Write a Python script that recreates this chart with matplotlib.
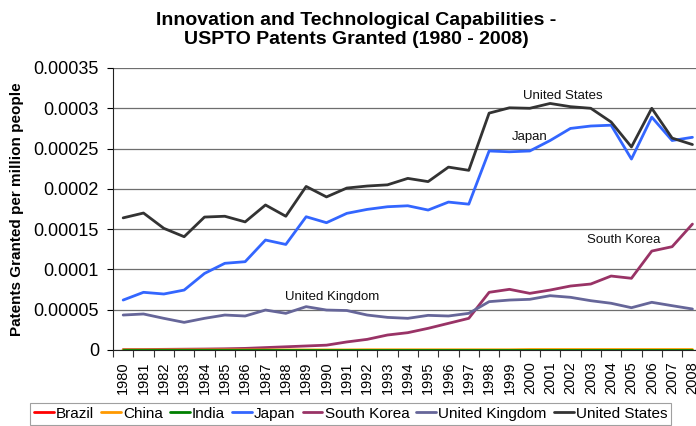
import matplotlib
matplotlib.use("Agg")
import matplotlib.pyplot as plt
from matplotlib.ticker import FixedLocator

years = list(range(1980, 2009))
brazil = [0.0000006]*29
china = [0.0000001]*12 + [0.0000003]*8 + [0.0000006]*9
india = [0.0000001]*29
japan = [0.000062, 0.0000716, 0.0000695, 0.0000744, 0.000095, 0.0001076, 0.0001096, 0.0001365,
         0.000131, 0.0001654, 0.000158, 0.0001696, 0.0001745, 0.0001778, 0.000179, 0.0001737,
         0.0001836, 0.000181, 0.000247, 0.000246, 0.000247, 0.00026, 0.000275, 0.000278,
         0.000279, 0.000237, 0.000289, 0.00026, 0.000264]
south_korea = [0.0000005, 0.0000006, 0.0000008, 0.000001, 0.0000012, 0.0000015, 0.000002, 0.000003,
               0.000004, 0.000005, 0.000006, 0.00001, 0.0000132, 0.0000186, 0.0000215, 0.0000269,
               0.0000331, 0.0000393, 0.0000716, 0.0000753, 0.0000703, 0.0000744, 0.0000794, 0.0000819,
               0.0000918, 0.000089, 0.0001228, 0.0001282, 0.0001563]
united_kingdom = [0.0000434, 0.0000447, 0.0000393, 0.0000343, 0.0000393, 0.0000434, 0.0000422, 0.0000496,
                  0.0000455, 0.0000538, 0.0000496, 0.000049, 0.0000434, 0.0000405, 0.0000393, 0.000043,
                  0.0000422, 0.0000455, 0.00006, 0.000062, 0.0000629, 0.0000674, 0.0000654, 0.0000612,
                  0.000058, 0.0000525, 0.0000592, 0.000055, 0.0000509]
united_states = [0.000164, 0.00017, 0.000151, 0.0001406, 0.000165, 0.000166, 0.000159, 0.00018,
                 0.000166, 0.000203, 0.00019, 0.000201, 0.0002035, 0.000205, 0.000213, 0.000209,
                 0.000227, 0.000223, 0.000294, 0.0003006, 0.0003, 0.000306, 0.000302, 0.0003,
                 0.000283, 0.000252, 0.0003, 0.000263, 0.000255]

series = [("Brazil", brazil, "#FF0000"), ("China", china, "#FF9900"), ("India", india, "#008000"),
          ("Japan", japan, "#3366FF"), ("South Korea", south_korea, "#993366"),
          ("United Kingdom", united_kingdom, "#666699"), ("United States", united_states, "#333333")]

yticks = [0, 0.00005, 0.0001, 0.00015, 0.0002, 0.00025, 0.0003, 0.00035]
ytick_labels = ["0", "0.00005", "0.0001", "0.00015", "0.0002", "0.00025", "0.0003", "0.00035"]

plt.rcParams['font.family'] = ["Liberation Sans", "DejaVu Sans"]

fig = plt.figure(figsize=(6.96, 4.26), dpi=100)
ax = fig.add_axes([113/696, 1-350/426, 589.6/696, 282/426])

x = list(range(len(years)))
draw_order = ["Japan", "South Korea", "United Kingdom", "United States", "Brazil", "China", "India"]
handles = {}
for name, vals, col in series:
    z = 3 + draw_order.index(name)
    ln, = ax.plot(x, vals, color=col, lw=2.0, solid_joinstyle='round', solid_capstyle='round', zorder=z, label=name)
    handles[name] = ln

ax.set_xlim(-0.5, len(years) - 0.5)
ax.set_ylim(0, 0.00035)
ax.set_yticks(yticks)
ax.set_yticklabels(ytick_labels, fontsize=13)
ax.yaxis.grid(True, color="#6e6e6e", lw=0.9)
ax.set_axisbelow(True)
ax.set_xticks(x)
ax.set_xticklabels([str(y) for y in years], rotation=90, fontsize=10.5)
ax.xaxis.set_minor_locator(FixedLocator([i - 0.5 for i in range(len(years) + 1)]))
ax.tick_params(axis='x', which='major', length=0, pad=8)
ax.tick_params(axis='x', which='minor', length=5, width=0.8, color="#333333")
ax.tick_params(axis='y', length=4, width=0.8, pad=6)
for s in ["top", "right"]:
    ax.spines[s].set_visible(False)
ax.spines["left"].set_color("#222222")
ax.spines["bottom"].set_color("#222222")

ax.set_ylabel("Patents Granted per million people", fontsize=11, fontweight="bold", labelpad=7)

ax.text(21.6, 0.000315, "United States", fontsize=9.5, ha="center", va="center", color="#111111")
ax.text(20.0, 0.000264, "Japan", fontsize=9.5, ha="center", va="center", color="#111111")
ax.text(24.6, 0.0001365, "South Korea", fontsize=9.5, ha="center", va="center", color="#111111")
ax.text(10.3, 0.0000658, "United Kingdom", fontsize=9.5, ha="center", va="center", color="#111111")

fig.text(356/696, 1-30/426, "Innovation and Technological Capabilities -\nUSPTO Patents Granted (1980 - 2008)",
         ha="center", va="center", fontsize=14, fontweight="bold", linespacing=1.1)

leg = fig.legend([handles[n] for n, _, _ in series], [n for n, _, _ in series],
                 loc="upper left", bbox_to_anchor=(30/696, 1-403/426), ncol=7,
                 prop={"size": 11}, handlelength=1.3, handletextpad=0.15,
                 columnspacing=0.45, borderpad=0.25, frameon=True, fancybox=False, borderaxespad=0)
leg.get_frame().set_edgecolor("#888888")
leg.get_frame().set_linewidth(0.8)

fig.savefig("out.png", dpi=100)
